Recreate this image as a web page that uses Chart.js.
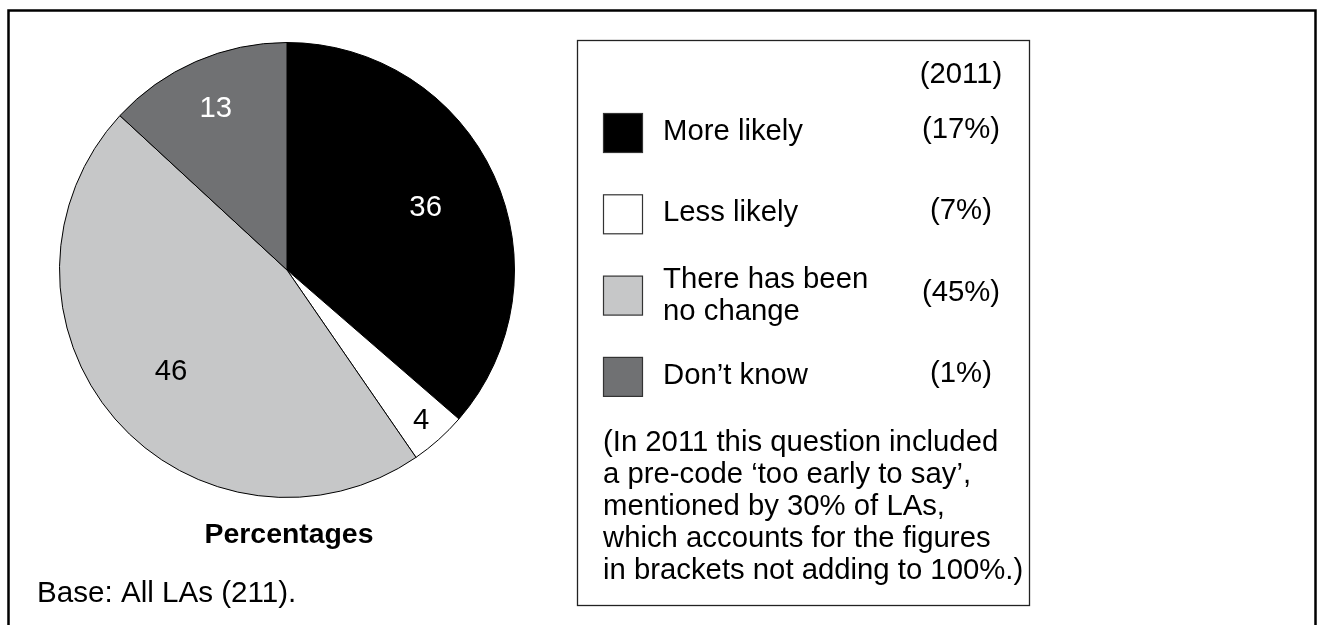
<!DOCTYPE html>
<html>
<head>
<meta charset="utf-8">
<script src="https://cdn.jsdelivr.net/npm/chart.js@4/dist/chart.umd.min.js"></script>
<style>
    html, body { margin: 0; padding: 0; background: #fff; }
    canvas { display: block; }
</style>
</head>
<body>
<canvas id="grafico" width="1322" height="625"></canvas>
<script>
// dados do grafico
const categories = ['More likely', 'Less likely', ['There has been', 'no change'], 'Don’t know'];
const values = [36, 4, 46, 13];
const values2011 = ['(17%)', '(7%)', '(45%)', '(1%)'];
const legendTitle = '(2011)';
const chartTitle = 'Percentages';
const baseText = 'Base: All LAs (211).';
const noteLines = [
    '(In 2011 this question included',
    'a pre-code ‘too early to say’,',
    'mentioned by 30% of LAs,',
    'which accounts for the figures',
    'in brackets not adding to 100%.)'
];

const sliceColors = ['#000000', '#ffffff', '#c6c7c8', '#707173'];
const numberColors = ['#ffffff', '#000000', '#000000', '#ffffff'];
// distancia do rotulo ao centro (fracao do raio)
const numberRadius = [0.67, 0.885, 0.675, 0.78];

const FONT = 'Arial, "Liberation Sans", Helvetica, sans-serif';

// fundo branco
const fundo = {
    id: 'fundo',
    beforeDraw(chart) {
        const ctx = chart.ctx;
        ctx.save();
        ctx.fillStyle = '#fff';
        ctx.fillRect(0, 0, chart.width, chart.height);
        ctx.restore();
    }
};

// numeros dentro das fatias
const rotulos = {
    id: 'rotulos',
    afterDatasetsDraw(chart) {
        const ctx = chart.ctx;
        const arcs = chart.getDatasetMeta(0).data;
        ctx.save();
        ctx.font = '29.3px ' + FONT;
        ctx.textAlign = 'center';
        ctx.textBaseline = 'middle';
        arcs.forEach(function (arc, i) {
            const p = arc.getProps(['x', 'y', 'startAngle', 'endAngle', 'outerRadius'], true);
            const mid = (p.startAngle + p.endAngle) / 2;
            const r = p.outerRadius * numberRadius[i];
            ctx.fillStyle = numberColors[i];
            ctx.fillText(String(values[i]), p.x + Math.cos(mid) * r, p.y + Math.sin(mid) * r + 1);
        });
        ctx.restore();
    }
};

// legenda, textos e caixas
const extras = {
    id: 'extras',
    afterDraw(chart) {
        const ctx = chart.ctx;
        const area = chart.chartArea;
        const cx = (area.left + area.right) / 2;
        ctx.save();

        // moldura externa
        ctx.strokeStyle = '#000';
        ctx.lineWidth = 2.5;
        ctx.strokeRect(8.5, 10.5, 1307, 640);

        // titulo abaixo da pizza
        ctx.fillStyle = '#000';
        ctx.textBaseline = 'alphabetic';
        ctx.textAlign = 'center';
        ctx.font = 'bold 28.4px ' + FONT;
        ctx.fillText(chartTitle, cx + 2, 543);

        ctx.textAlign = 'left';
        ctx.font = '29.6px ' + FONT;
        ctx.fillText(baseText, 37, 602);

        // caixa da legenda
        ctx.strokeStyle = '#222';
        ctx.lineWidth = 1.3;
        ctx.strokeRect(577.5, 40.5, 452, 565);

        ctx.font = '29.3px ' + FONT;
        ctx.textAlign = 'center';
        ctx.fillText(legendTitle, 961, 83);

        categories.forEach(function (cat, i) {
            const top = 113 + i * 81.3;
            ctx.fillStyle = sliceColors[i];
            ctx.fillRect(603.5, top + 0.5, 39, 39);
            ctx.strokeStyle = '#333';
            ctx.lineWidth = 1.2;
            ctx.strokeRect(603.5, top + 0.5, 39, 39);

            ctx.fillStyle = '#000';
            ctx.textAlign = 'left';
            if (Array.isArray(cat)) {
                ctx.fillText(cat[0], 663, top + 12);
                ctx.fillText(cat[1], 663, top + 44);
            } else {
                ctx.fillText(cat, 663, top + 27);
            }
            ctx.textAlign = 'center';
            ctx.fillText(values2011[i], 961, top + 25);
        });

        ctx.textAlign = 'left';
        noteLines.forEach(function (linha, i) {
            ctx.fillText(linha, 603, 451 + i * 32);
        });

        ctx.restore();
    }
};

new Chart('grafico', {
    type: 'pie',
    data: {
        labels: categories,
        datasets: [{
            data: values,
            backgroundColor: sliceColors,
            borderColor: '#000',
            borderWidth: 1
        }]
    },
    options: {
        responsive: false,
        devicePixelRatio: 1,
        animation: false,
        layout: {
            padding: { left: 59, top: 42, right: 807, bottom: 127 }
        },
        plugins: {
            legend: { display: false },
            tooltip: { enabled: false }
        }
    },
    plugins: [fundo, rotulos, extras]
});
</script>
</body>
</html>
